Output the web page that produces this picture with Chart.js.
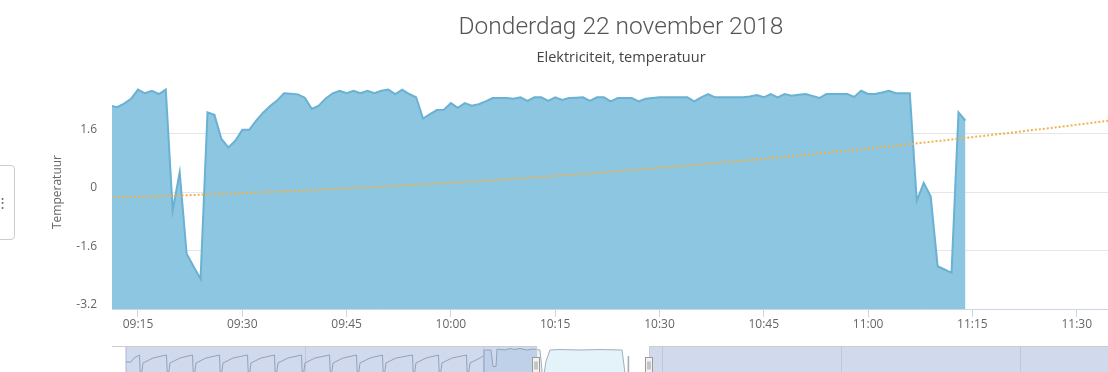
<!DOCTYPE html>
<html>
<head>
<meta charset="utf-8">
<script src="https://cdn.jsdelivr.net/npm/chart.js@4.4.1/dist/chart.umd.min.js"></script>
<style>
  html, body { margin: 0; padding: 0; background: #fff; overflow: hidden; }
  #wrap { position: relative; width: 1108px; height: 372px; overflow: hidden; background: #fff; }
  #main { position: absolute; left: 0; top: 0; }
  #nav { position: absolute; left: 0; top: 346px; }
  #sideBtn { position: absolute; left: -30px; top: 165px; width: 43px; height: 73px;
    border: 1px solid #ccc; border-radius: 4px; background: #fff; }
  #sideBtn span { position: absolute; left: 25px; top: 27px; font: 13px 'Open Sans', sans-serif; color: #666; }
</style>
</head>
<body>
<div id="wrap">
  <canvas id="main" width="1207" height="346"></canvas>
  <canvas id="nav" width="1242" height="40"></canvas>
  <div id="sideBtn"><span>⋮</span></div>
</div>
<script>
// ---------- main chart data ----------
const titleText = 'Donderdag 22 november 2018';
const subtitleText = 'Elektriciteit, temperatuur';
const yAxisTitle = 'Temperatuur';
const yTickValues = [-3.2, -1.6, 0, 1.6, 3.2];
const timeAxisRange = ['09:11:16', '11:47:18'];

const tempTimes = [
 '09:11','09:12','09:13','09:14','09:15','09:16','09:17','09:18','09:19','09:20',
 '09:21','09:22','09:23','09:24','09:25','09:26','09:27','09:28','09:29','09:30',
 '09:31','09:32','09:33','09:34','09:35','09:36','09:37','09:38','09:39','09:40',
 '09:41','09:42','09:43','09:44','09:45','09:46','09:47','09:48','09:49','09:50',
 '09:51','09:52','09:53','09:54','09:55','09:56','09:57','09:58','09:59','10:00',
 '10:01','10:02','10:03','10:04','10:05','10:06','10:07','10:08','10:09','10:10',
 '10:11','10:12','10:13','10:14','10:15','10:16','10:17','10:18','10:19','10:20',
 '10:21','10:22','10:23','10:24','10:25','10:26','10:27','10:28','10:29','10:30',
 '10:31','10:32','10:33','10:34','10:35','10:36','10:37','10:38','10:39','10:40',
 '10:41','10:42','10:43','10:44','10:45','10:46','10:47','10:48','10:49','10:50',
 '10:51','10:52','10:53','10:54','10:55','10:56','10:57','10:58','10:59','11:00',
 '11:01','11:02','11:03','11:04','11:05','11:06','11:07','11:08','11:09','11:10',
 '11:11','11:12','11:13','11:14'
];
const tempValues = [
 2.36, 2.32, 2.42, 2.55, 2.80, 2.70, 2.77, 2.68, 2.80, -0.50,
 0.54, -1.69, -2.04, -2.38, 2.18, 2.11, 1.45, 1.22, 1.40, 1.70,
 1.70, 1.95, 2.17, 2.35, 2.50, 2.70, 2.69, 2.67, 2.58, 2.27,
 2.36, 2.56, 2.70, 2.77, 2.70, 2.77, 2.70, 2.77, 2.70, 2.77,
 2.80, 2.68, 2.80, 2.68, 2.59, 2.01, 2.13, 2.24, 2.25, 2.43,
 2.30, 2.43, 2.36, 2.40, 2.48, 2.57, 2.57, 2.57, 2.55, 2.59,
 2.49, 2.59, 2.59, 2.49, 2.59, 2.52, 2.57, 2.58, 2.59, 2.49,
 2.59, 2.59, 2.48, 2.57, 2.57, 2.57, 2.48, 2.55, 2.57, 2.59,
 2.59, 2.59, 2.59, 2.59, 2.48, 2.59, 2.68, 2.59, 2.59, 2.59,
 2.59, 2.59, 2.61, 2.65, 2.59, 2.68, 2.59, 2.68, 2.63, 2.66,
 2.68, 2.63, 2.57, 2.68, 2.68, 2.68, 2.68, 2.60, 2.77, 2.68,
 2.68, 2.72, 2.77, 2.70, 2.70, 2.70, -0.24, 0.25, -0.12, -2.03,
 -2.12, -2.21, 2.18, 1.95
];

const outsideTimes = ['09:00','09:15','09:30','09:45','10:00','10:15','10:30','10:45','11:00','11:15','11:30','11:45','12:00'];
const outsideValues = [-0.19, -0.13, -0.03, 0.10, 0.25, 0.44, 0.66, 0.91, 1.19, 1.50, 1.84, 2.21, 2.60];

// ---------- navigator data (hours) ----------
const navRange = [-1.88, 148.3];
const navMaskStart = -0.13;
const navSelection = [55.04, 70.19];
const navSawHours = [
 0, 0.67, 1.07, 1.81, 1.94,
 2.28, 3.62, 5.43, 5.57,
 5.90, 7.24, 8.92, 9.05,
 9.39, 10.73, 12.54, 12.67,
 13.01, 14.35, 16.29, 16.43,
 16.76, 18.10, 19.91, 20.05,
 20.38, 21.72, 23.53, 23.67,
 24.00, 25.34, 27.29, 27.42,
 27.76, 29.10, 30.91, 31.04,
 31.38, 32.72, 34.39, 34.53,
 34.86, 36.20, 38.42, 38.55,
 38.88, 40.23, 41.90, 42.04,
 42.37, 43.71, 45.66, 45.79,
 46.13, 47.47, 47.87
];
const navSawValues = [
 4.8, 4.8, 5.6, 6.2, 1.0,
 4.6, 5.6, 6.2, 1.0,
 4.6, 5.6, 6.2, 1.0,
 4.6, 5.6, 6.2, 1.0,
 4.6, 5.6, 6.2, 1.0,
 4.6, 5.6, 6.2, 1.0,
 4.6, 5.6, 6.2, 1.0,
 4.6, 5.6, 6.2, 1.0,
 4.6, 5.6, 6.2, 1.0,
 4.6, 5.6, 6.2, 1.0,
 4.6, 5.6, 6.2, 1.0,
 4.6, 5.6, 6.2, 1.0,
 4.6, 5.6, 6.2, 1.0,
 4.6, 5.6, 6.0
];
const navHighHours = [47.94, 48.00, 48.94, 49.21, 49.61, 49.75, 50.82, 51.49, 52.16, 52.83, 53.77, 54.57, 55.51, 55.91, 56.32, 56.85, 58.19, 60.87, 63.56, 66.51, 67.04, 67.31, 67.35, 67.39];
const navHighValues = [1.0, 7.2, 7.2, 3.9, 3.9, 7.4, 7.2, 7.5, 7.3, 7.5, 7.2, 7.4, 7.2, 1.0, 5.0, 7.2, 7.3, 7.2, 7.3, 7.2, 1.0, 1.0, 6.0, 1.0];

// ---------- helpers ----------
function toMin(s) { const p = s.split(':').map(Number); return p[0] * 60 + p[1] + (p[2] || 0) / 60; }
function fmtMin(v) { const h = Math.floor(v / 60), m = Math.round(v - h * 60); return String(h).padStart(2, '0') + ':' + String(m).padStart(2, '0'); }
function pairs(xs, ys, fx) { return xs.map((x, i) => ({ x: fx ? fx(x) : x, y: ys[i] })); }

Chart.defaults.font.family = "'Open Sans', sans-serif";
Chart.defaults.color = '#666';

new Chart(document.getElementById('main'), {
  type: 'line',
  data: {
    datasets: [
      { label: 'Buiten', data: pairs(outsideTimes, outsideValues, toMin),
        borderColor: '#f0b24f', borderWidth: 2, borderDash: [2, 2], pointRadius: 0,
        fill: false, cubicInterpolationMode: 'monotone' },
      { label: yAxisTitle, data: pairs(tempTimes, tempValues, toMin),
        borderColor: '#6ab1d3', backgroundColor: '#8cc6e0', borderWidth: 2,
        pointRadius: 0, fill: 'start', tension: 0 }
    ]
  },
  options: {
    responsive: false, animation: false, events: [],
    layout: { padding: { left: 45, right: 10, top: 0, bottom: 0 } },
    plugins: {
      legend: { display: false }, tooltip: { enabled: false },
      title: { display: true, text: titleText, color: '#555',
        font: { family: 'Roboto', weight: '300', size: 24.5, lineHeight: 1.2 },
        padding: { top: 13, bottom: 6.5 } },
      subtitle: { display: true, text: subtitleText, color: '#444',
        font: { family: "'Open Sans'", size: 14.5, lineHeight: 1.2 },
        padding: { top: 0, bottom: 8.7 } }
    },
    scales: {
      x: {
        type: 'linear', min: toMin(timeAxisRange[0]), max: toMin(timeAxisRange[1]),
        border: { display: true, color: '#ccd6eb', width: 1 },
        grid: { display: true, drawOnChartArea: false, drawTicks: true, tickLength: 8, color: '#ccd6eb' },
        ticks: { stepSize: 15, includeBounds: false, autoSkip: false, maxRotation: 0, color: '#666',
          font: { size: 12 }, padding: 0, callback: v => fmtMin(v) },
        afterBuildTicks: s => { s.ticks = s.ticks.filter(t => Math.abs(t.value % 15) < 1e-6); },
        afterFit: s => { s.height = 37; }
      },
      y: {
        min: yTickValues[0], max: yTickValues[yTickValues.length - 1],
        border: { display: false },
        grid: { color: '#e6e6e6', drawTicks: false },
        ticks: { stepSize: 1.6, color: '#666', font: { size: 12 }, padding: 15, labelOffset: -4,
          callback: v => (v > 3 ? null : String(Math.round(v * 10) / 10)) },
        title: { display: true, text: yAxisTitle, color: '#666', font: { size: 12 }, padding: { top: 5, bottom: 0 } },
        afterFit: s => { s.width = 67; }
      }
    }
  }
});

const navDecor = {
  id: 'navDecor',
  afterDatasetsDraw(chart) {
    const { ctx, chartArea: ca, scales: { x } } = chart;
    const l = x.getPixelForValue(navMaskStart);
    const a = x.getPixelForValue(navSelection[0]);
    const b = x.getPixelForValue(navSelection[1]);
    ctx.save();
    ctx.fillStyle = 'rgba(102,133,194,0.3)';
    ctx.fillRect(l, ca.top, a - l, ca.bottom - ca.top);
    ctx.fillRect(b, ca.top, ca.right - b, ca.bottom - ca.top);
    ctx.strokeStyle = '#cccccc';
    ctx.lineWidth = 1;
    const ar = Math.round(a) + 0.5, br = Math.round(b) + 0.5, t = ca.top + 0.5;
    ctx.beginPath();
    ctx.moveTo(ca.left, t); ctx.lineTo(ar, t); ctx.lineTo(ar, ca.bottom);
    ctx.moveTo(br, ca.bottom); ctx.lineTo(br, t); ctx.lineTo(ca.right, t);
    ctx.stroke();
    [a, b].forEach(px => {
      const hx = Math.round(px) - 4 + 0.5, hy = ca.top + 11.5;
      ctx.fillStyle = '#f2f2f2';
      ctx.strokeStyle = '#999';
      ctx.fillRect(hx, hy, 7, 16);
      ctx.strokeRect(hx, hy, 7, 16);
      ctx.beginPath();
      ctx.moveTo(hx + 2.5, hy + 4); ctx.lineTo(hx + 2.5, hy + 12);
      ctx.moveTo(hx + 4.5, hy + 4); ctx.lineTo(hx + 4.5, hy + 12);
      ctx.stroke();
    });
    ctx.restore();
  }
};

new Chart(document.getElementById('nav'), {
  type: 'line',
  data: {
    datasets: [
      { data: pairs(navHighHours, navHighValues), borderColor: '#a2aebb', borderWidth: 1,
        backgroundColor: '#e4f2fa', fill: 'start', pointRadius: 0, tension: 0 },
      { data: pairs(navSawHours, navSawValues), borderColor: '#a2aebb', borderWidth: 1,
        fill: false, pointRadius: 0, tension: 0 }
    ]
  },
  options: {
    responsive: false, animation: false, events: [],
    layout: { padding: { left: 112, right: 10, top: 0, bottom: 0 } },
    plugins: { legend: { display: false }, tooltip: { enabled: false } },
    scales: {
      x: { type: 'linear', min: navRange[0], max: navRange[1],
        ticks: { display: false, stepSize: 24, includeBounds: false },
        grid: { drawTicks: false, color: '#e6e6e6' }, border: { display: false } },
      y: { display: false, min: 0, max: 8 }
    }
  },
  plugins: [navDecor]
});
</script>
</body>
</html>
